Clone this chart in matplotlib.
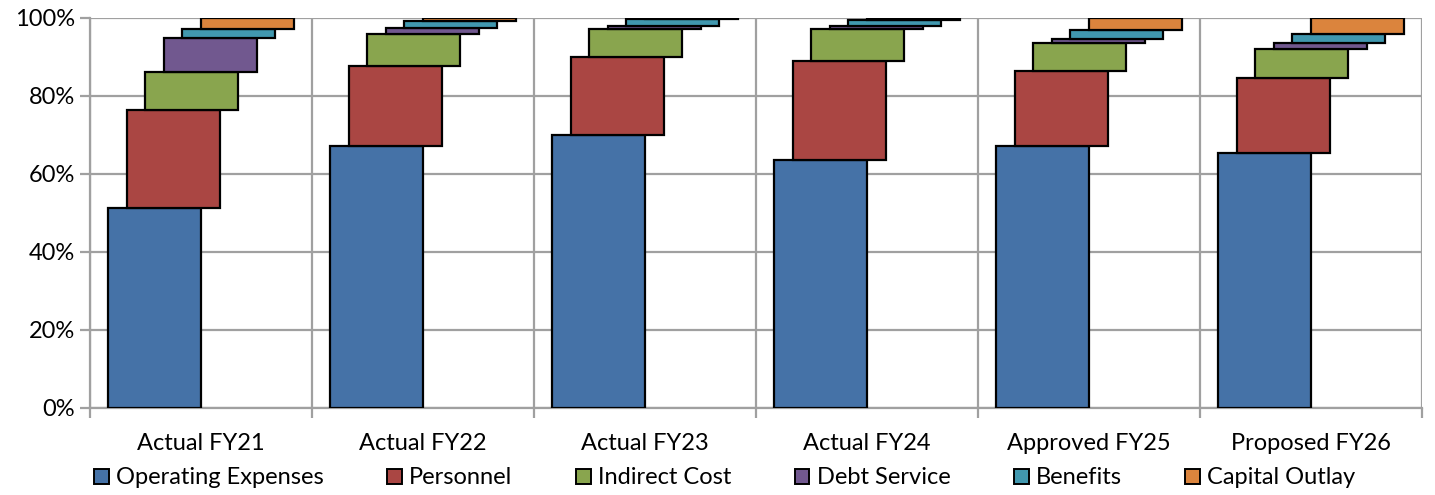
import matplotlib
matplotlib.use("Agg")
import matplotlib.pyplot as plt
import numpy as np
from matplotlib.ticker import FuncFormatter, FixedLocator
from matplotlib.patches import Patch

plt.rcParams['font.family'] = ['Lato', 'DejaVu Sans']

categories = ["Actual FY21", "Actual FY22", "Actual FY23", "Actual FY24",
              "Approved FY25", "Proposed FY26"]
series_names = ["Operating Expenses", "Personnel", "Indirect Cost",
                "Debt Service", "Benefits", "Capital Outlay"]
operating_expenses = [51.3, 67.3, 70.1, 63.5, 67.2, 65.3]
personnel          = [25.1, 20.5, 19.8, 25.5, 19.2, 19.2]
indirect_cost      = [9.8, 8.2, 7.4, 8.3, 7.2, 7.6]
debt_service       = [8.8, 1.4, 0.6, 0.7, 1.1, 1.4]
benefits           = [2.3, 1.8, 1.8, 1.5, 2.2, 2.4]
capital_outlay     = [2.7, 0.8, 0.3, 0.5, 3.1, 4.1]
y_ticks = [0, 20, 40, 60, 80, 100]

colors = ["#4572A7", "#AA4643", "#89A54E", "#71588F", "#4198AF", "#DB843D"]

series = [operating_expenses, personnel, indirect_cost, debt_service,
          benefits, capital_outlay]

fig = plt.figure(figsize=(14.35, 4.95), dpi=100)
ax = fig.add_axes([90/1435, 87/495, (1422-90)/1435, (408-18)/495])

n = len(categories)
x = np.arange(n)
width = 0.42
step = 0.0832
first_offset = -0.208
bottom = np.zeros(n)
for j, (vals, col) in enumerate(zip(series, colors)):
    vals = np.array(vals, dtype=float)
    ax.bar(x + first_offset + j * step, vals, width=width, bottom=bottom,
           color=col, edgecolor="black", linewidth=1.6, zorder=3)
    bottom = bottom + vals

ax.set_xlim(-0.5, n - 0.5)
ax.set_ylim(0, 100)
ax.yaxis.set_major_locator(FixedLocator(y_ticks))
ax.yaxis.set_major_formatter(FuncFormatter(lambda v, p: f"{v:.0f}%"))
ax.set_xticks(x)
ax.set_xticklabels(categories)
ax.xaxis.set_minor_locator(FixedLocator(np.arange(n + 1) - 0.5))

grid_col = "#A0A0A0"
ax.yaxis.grid(True, color=grid_col, linewidth=1.6, zorder=0)
ax.xaxis.grid(True, which='minor', color=grid_col, linewidth=1.6, zorder=0)
for s in ["top", "right"]:
    ax.spines[s].set_visible(False)
for s in ["left", "bottom"]:
    ax.spines[s].set_color(grid_col)
    ax.spines[s].set_linewidth(1.6)
    ax.spines[s].set_zorder(1)

fs = 17
ax.tick_params(axis='x', which='major', length=0, labelsize=fs, pad=18)
ax.tick_params(axis='x', which='minor', length=7, width=1.6, color=grid_col)
ax.tick_params(axis='y', length=7, width=1.6, color=grid_col, labelsize=fs, pad=4)

handles = [Patch(facecolor=c, edgecolor="black", linewidth=1.4, label=nm)
           for c, nm in zip(colors, series_names)]
fig.legend(handles=handles, loc='center', bbox_to_anchor=(0.505, 1 - 478/495),
           ncol=6, frameon=False, fontsize=fs, handlelength=0.62,
           handleheight=0.62, handletextpad=0.3, columnspacing=2.7)

fig.savefig("out.png", dpi=100)
